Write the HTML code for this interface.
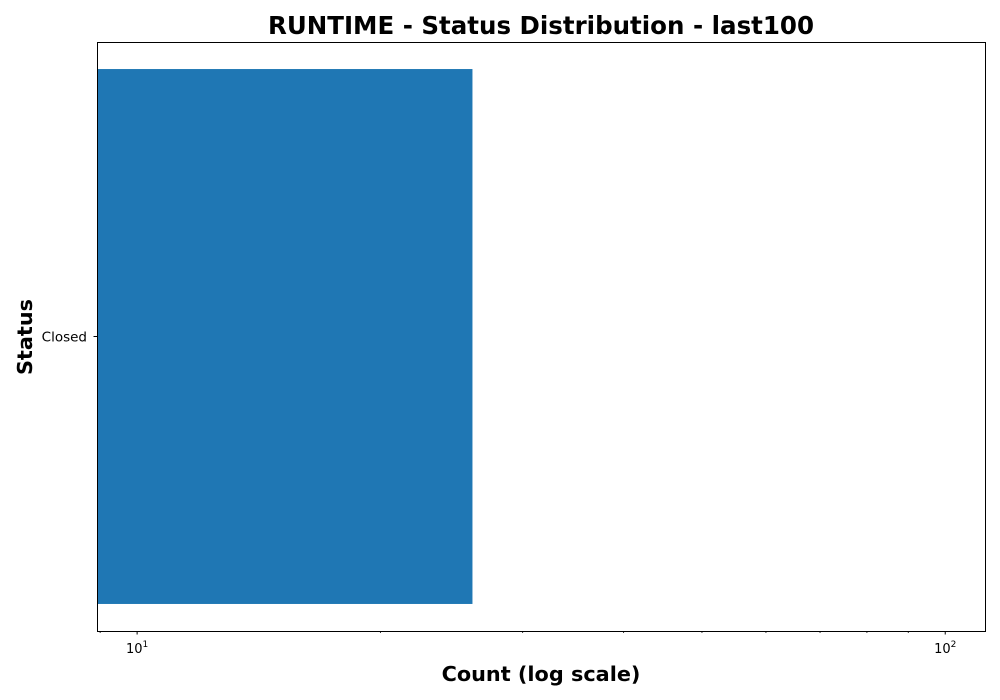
<!DOCTYPE html>
<html><head><meta charset="utf-8"><style>
html,body{margin:0;padding:0;background:#fff;}
svg{display:block;font-family:"DejaVu Sans","Liberation Sans",sans-serif;}
</style></head><body>
<svg id="chart" width="1000" height="700" viewBox="0 0 1000 700" xmlns="http://www.w3.org/2000/svg">
<rect width="1000" height="700" fill="#fff"/>
<text x="541" y="34" text-anchor="middle" font-size="24.5" font-weight="bold">RUNTIME - Status Distribution - last100</text>
<g id="bars"></g>
<g id="xticks"></g>
<g id="yticks"></g>
<rect x="97.5" y="42.5" width="888" height="589" fill="none" stroke="#000" stroke-width="1"/>
<text x="541" y="681" text-anchor="middle" font-size="20.8" font-weight="bold">Count (log scale)</text>
<text transform="translate(32,337) rotate(-90)" text-anchor="middle" font-size="20.8" font-weight="bold">Status</text>
</svg>
<script>
const categories = ["Closed"];
const counts = [26];
const majorTicks = [10, 100];
const majorTickExps = ["1", "2"];
const minorTicks = [9, 20, 30, 40, 50, 60, 70, 80, 90];

const NS = "http://www.w3.org/2000/svg";
const plotL = 97, plotR = 985, plotT = 42, plotB = 631;
const xMin = 8.92, xMax = 112;
function xScale(v){ return plotL + (Math.log10(v) - Math.log10(xMin)) / (Math.log10(xMax) - Math.log10(xMin)) * (plotR - plotL); }
const n = categories.length;
function step(){ const pad = (plotB - plotT) * 0.0459; const usable = (plotB - plotT) - 2*pad; return n > 1 ? usable/(n-1+0.8) : usable/0.8; }
function yCenter(i){ const pad = (plotB - plotT) * 0.0459; const s = step(); return plotT + pad + s*0.4 + s*(n-1-i); }
function barH(){ return step()*0.8; }

function mk(tag, attrs){ const e = document.createElementNS(NS, tag); for (const k in attrs) e.setAttribute(k, attrs[k]); return e; }

const bars = document.getElementById('bars');
categories.forEach((c, i) => {
  const h = barH(), cy = yCenter(i);
  const r = mk('rect', {x: plotL, y: cy - h/2, width: xScale(counts[i]) - plotL, height: h, fill: '#1f77b4'});
  
  
  bars.appendChild(r);
});

const yt = document.getElementById('yticks');
categories.forEach((c, i) => {
  const cy = yCenter(i);
  const l = mk('line', {x1: plotL - 3.5, x2: plotL, y1: cy, y2: cy, stroke: '#000', 'stroke-width': 1});
  
  
  yt.appendChild(l);
  const t = mk('text', {x: plotL - 10, y: cy + 5, 'text-anchor': 'end', 'font-size': 13.5});
  
  
  t.textContent = c;
  yt.appendChild(t);
});

const xt = document.getElementById('xticks');
majorTicks.forEach((v, i) => {
  const x = xScale(v);
  const l = mk('line', {x1: x, x2: x, y1: plotB, y2: plotB + 3.5, stroke: '#000', 'stroke-width': 1});
  
  
  xt.appendChild(l);
  const t = mk('text', {x: x, y: plotB + 22, 'text-anchor': 'middle', 'font-size': 13});
  
  
  t.appendChild(document.createTextNode('10'));
  const s = mk('tspan', {dy: -6, 'font-size': 9});
  s.textContent = majorTickExps[i];
  t.appendChild(s);
  xt.appendChild(t);
});
minorTicks.forEach(v => {
  const x = xScale(v);
  const l = mk('line', {x1: x, x2: x, y1: plotB, y2: plotB + 2, stroke: '#000', 'stroke-width': 0.8});
  
  
  xt.appendChild(l);
});
</script>
</body></html>
